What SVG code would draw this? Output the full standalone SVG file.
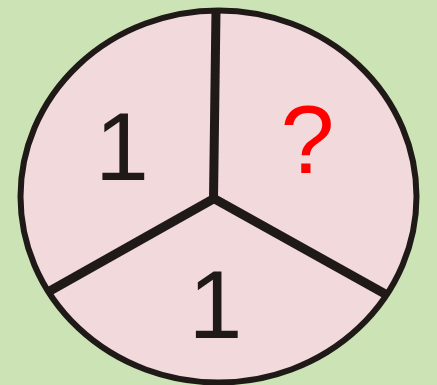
<svg xmlns="http://www.w3.org/2000/svg" width="437" height="385" viewBox="0 0 437 385">
<style>
.spoke{stroke:#1f1a17;stroke-width:9;stroke-linecap:butt;fill:none}
.num{font-family:"Liberation Sans",Arial,sans-serif;font-size:97px;text-anchor:middle}
</style>
<rect width="437" height="385" fill="#cce3b5"/>
<g id="disc">
<ellipse cx="218.5" cy="196.5" rx="198" ry="186" fill="#f2d9dc" stroke="#1f1a17" stroke-width="6"/>
</g>
<g id="connectors">
<path class="spoke" d="M216 10 L213.5 199"/>
<path class="spoke" d="M215 198 L48 292"/>
<path class="spoke" d="M213 198 L387 295"/>
</g>
<g id="sector-left"><text class="num" x="122" y="180" fill="#1f1a17">1</text></g>
<g id="sector-right"><text class="num" x="307.5" y="173" fill="#ff0000">?</text></g>
<g id="sector-bottom"><text class="num" x="215.5" y="338" fill="#1f1a17">1</text></g>
</svg>
